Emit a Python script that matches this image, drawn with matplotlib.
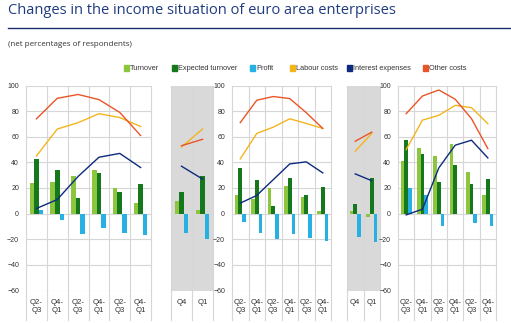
import matplotlib
matplotlib.use("Agg")
import matplotlib.pyplot as plt
from matplotlib.patches import Rectangle
from matplotlib.lines import Line2D
import matplotlib.transforms as mtransforms
import numpy as np

W, H = 511, 323
fig = plt.figure(figsize=(W / 100, H / 100), dpi=100)

title = "Changes in the income situation of euro area enterprises"
subtitle = "(net percentages of respondents)"
series_names = ["Turnover", "Expected turnover", "Profit", "Labour costs",
                "Interest expenses", "Other costs"]
series_colors = ["#8cc63f", "#16781c", "#27b1e3", "#f4b41c", "#0d2a7e", "#ea5527"]

labels_long = ["Q2-\nQ3", "Q4-\nQ1", "Q2-\nQ3", "Q4-\nQ1", "Q2-\nQ3", "Q4-\nQ1"]
labels_short = ["Q4", "Q1"]

# Panel 1
p1_turnover = [24, 25, 29, 34, 20, 8]
p1_expected = [43, 34, 12, 32, 17, 23]
p1_profit = [3, -5, -16, -11, -15, -17]
p1_labour = [45, 66, 71, 78, 75, 68]
p1_interest = [4, 11, 29, 44, 47, 36]
p1_other = [74, 90, 93, 89, 79, 61]

# Grey panel 1
g1_turnover = [9.5, 2.5]
g1_expected = [16.5, 29.5]
g1_profit = [-15, -19.5]
g1_labour = [52, 66]
g1_interest = [37, 27]
g1_other = [53, 58]

# Panel 2
p2_turnover = [14.7, 11.4, 20, 21.3, 12.9, 2.4]
p2_expected = [36, 26.5, 5.6, 27.8, 14.7, 20.5]
p2_profit = [-6.8, -15.3, -19.7, -16, -18.7, -21]
p2_labour = [42.7, 62.6, 67.5, 74, 70.4, 66.5]
p2_interest = [8.2, 14.2, 26.5, 38.8, 40.4, 31.8]
p2_other = [71, 88.5, 91.4, 89.8, 78.8, 66.5]

# Grey panel 2
g2_turnover = [2.2, -2.7]
g2_expected = [7.4, 27.8]
g2_profit = [-18, -22.4]
g2_labour = [48.7, 62.6]
g2_interest = [31, 25.7]
g2_other = [56.5, 63.6]

# Panel 3
p3_turnover = [40.9, 51.4, 44.8, 54.7, 32.5, 14.7]
p3_expected = [57.1, 46.9, 24.7, 38.3, 23.1, 27.4]
p3_profit = [20, 14.5, -9.3, 0, -7.5, -10]
p3_labour = [50, 73, 76.7, 84.5, 82.7, 70.2]
p3_interest = [-1, 3.5, 35.7, 53.4, 57.3, 43.5]
p3_other = [78, 91.8, 96.5, 89.3, 74.1, 50.8]

panels = [
    dict(x0=26, x1=151, grey=False, labels=labels_long,
         data=[p1_turnover, p1_expected, p1_profit, p1_labour, p1_interest, p1_other]),
    dict(x0=171, x1=213, grey=True, labels=labels_short,
         data=[g1_turnover, g1_expected, g1_profit, g1_labour, g1_interest, g1_other]),
    dict(x0=232, x1=331, grey=False, labels=labels_long,
         data=[p2_turnover, p2_expected, p2_profit, p2_labour, p2_interest, p2_other]),
    dict(x0=347, x1=380, grey=True, labels=labels_short,
         data=[g2_turnover, g2_expected, g2_profit, g2_labour, g2_interest, g2_other]),
    dict(x0=398, x1=496, grey=False, labels=labels_long,
         data=[p3_turnover, p3_expected, p3_profit, p3_labour, p3_interest, p3_other]),
]

y_top_px, y_bot_px = 85.5, 290.5
grid_col = "#d6d6d6"
tick_font = "Liberation Sans"
bw = 0.22

for p in panels:
    ax = fig.add_axes([p["x0"] / W, 1 - y_bot_px / H,
                       (p["x1"] - p["x0"]) / W, (y_bot_px - y_top_px) / H])
    n = len(p["labels"])
    x = np.arange(n)
    ax.set_xlim(-0.5, n - 0.5)
    ax.set_ylim(-60, 100)
    for s in ax.spines.values():
        s.set_visible(False)
    ax.set_facecolor("#d9d9d9" if p["grey"] else "white")
    ax.set_axisbelow(True)
    ax.set_yticks(np.arange(-60, 101, 20))
    if p["grey"]:
        ax.tick_params(axis="y", left=False, labelleft=False)
    else:
        ax.yaxis.grid(True, color=grid_col, linewidth=0.8)
        ax.tick_params(axis="y", length=0, pad=5, labelsize=5, labelcolor="#333333")
        for t in ax.get_yticklabels():
            t.set_fontfamily(tick_font)
    ax.set_xticks(x)
    ax.set_xticklabels(p["labels"], fontsize=5.6, color="#333333",
                       fontfamily=tick_font, linespacing=1.25)
    ax.tick_params(axis="x", length=0, pad=6)
    trans = mtransforms.blended_transform_factory(ax.transData, ax.transAxes)
    for b in np.arange(n + 1) - 0.5:
        ax.add_line(Line2D([b, b], [1, -(320 - y_bot_px) / (y_bot_px - y_top_px)],
                           transform=trans, color=grid_col, linewidth=0.8,
                           clip_on=False, zorder=0.5))
    d = p["data"]
    ax.bar(x - bw, d[0], bw, color=series_colors[0], zorder=2)
    ax.bar(x, d[1], bw, color=series_colors[1], zorder=2)
    ax.bar(x + bw, d[2], bw, color=series_colors[2], zorder=2)
    ax.plot(x, d[3], color=series_colors[3], linewidth=1.0, zorder=3)
    ax.plot(x, d[4], color=series_colors[4], linewidth=1.0, zorder=3)
    ax.plot(x, d[5], color=series_colors[5], linewidth=1.0, zorder=3)

# Title, rule, subtitle
fig.text(8 / W, 1 - 11 / H, title, fontsize=10.5, color="#1f3b80",
         fontfamily="Open Sans", va="center", ha="left")
fig.add_artist(Line2D([8 / W, 1], [1 - 28.3 / H, 1 - 28.3 / H],
                      color="#1c2e6e", linewidth=1.0))
fig.text(8 / W, 1 - 44 / H, subtitle, fontsize=5.8, color="#333333",
         fontfamily="Open Sans", va="center", ha="left")

# Legend
leg_x = [124, 172, 250, 290, 347, 423]
leg_y = 68
for name, col, lx in zip(series_names, series_colors, leg_x):
    fig.add_artist(Rectangle((lx / W, 1 - (leg_y + 3) / H), 4.5 / W, 6 / H,
                             color=col, transform=fig.transFigure))
    fig.text((lx + 6) / W, 1 - leg_y / H, name, fontsize=5.3, color="#333333",
             fontfamily=tick_font, va="center", ha="left")

fig.savefig("out.png", dpi=100)
